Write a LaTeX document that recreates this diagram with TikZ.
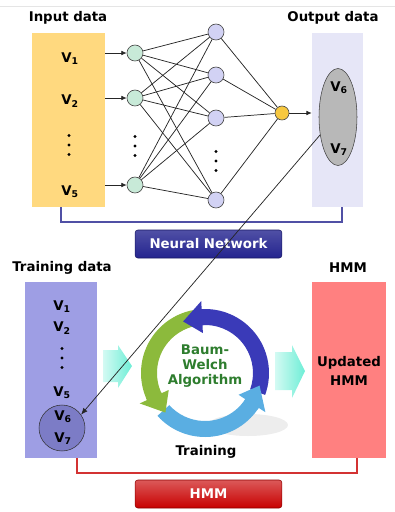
\documentclass[tikz,border=0pt]{standalone}
\usepackage{fontspec}
\setmainfont{DejaVu Sans}
\usepackage{tikz}
\usetikzlibrary{shadings}
\usetikzlibrary{calc,arrows.meta}
\usetikzlibrary{shapes.geometric}
\definecolor{hm-input}{HTML}{FFD97F}
\definecolor{hm-output}{HTML}{E6E6F7}
\definecolor{hm-train}{HTML}{9E9EE4}
\definecolor{hm-trainset}{HTML}{7C7CC6}
\definecolor{hm-model}{HTML}{FF8080}
\definecolor{hm-inode}{HTML}{C8EAD8}
\definecolor{hm-hnode}{HTML}{D2D2F4}
\definecolor{hm-onode}{HTML}{F7C840}
\definecolor{hm-navy}{HTML}{24248F}
\definecolor{hm-red}{HTML}{C80000}
\definecolor{hm-green}{HTML}{8CBA3C}
\definecolor{hm-sky}{HTML}{5AAEE2}
\definecolor{hm-blue}{HTML}{3A3AB8}
\definecolor{hm-text}{HTML}{2E7D2E}
\definecolor{hm-cyan}{HTML}{6EEED6}

\tikzset{
  databox/.style={inner sep=0pt, minimum width=#1},
  neuron/.style={circle, draw=black!70, line width=0.5pt, minimum size=12pt, inner sep=0pt},
  heading/.style={font=\bfseries},
  vtext/.style={font=\bfseries, inner sep=1pt},
  button/.style={rounded corners=2pt, minimum width=110pt, minimum height=21pt,
    text=white, font=\bfseries},
  link/.style={black!85, line width=0.55pt},
  feed/.style={link, -{Latex[length=4pt,width=3.5pt]}},
}

\begin{document}
\begin{tikzpicture}[x=0.75pt, y=-0.75pt]
    \useasboundingbox (0,0) rectangle (395,512);
    \draw[black!10] (0,6) -- (395,6);

    % Data boxes
    \node[databox=54.75pt, minimum height=130.5pt, fill=hm-input] (inbox) at (68.5,120) {};
    \node[databox=38.25pt, minimum height=130.5pt, fill=hm-output] (outbox) at (337.5,120) {};
    \node[databox=54pt, minimum height=132pt, fill=hm-train] (trbox) at (61,370) {};
    \node[databox=55.5pt, minimum height=132pt, fill=hm-model] (hmmbox) at (349,370) {};

    % Headings
    \node[heading] (inhead) at (68,18) {Input data};
    \node[heading] (outhead) at (333,18) {Output data};
    \node[heading] (trhead) at (62,268) {Training data};
    \node[heading] (hmmhead) at (348,268) {HMM};

    % Input values
    \node[vtext] (v1) at (70,59) {V\textsubscript{1}};
    \node[vtext] (v2) at (70,101) {V\textsubscript{2}};
    \node[vtext] (v5) at (70,192) {V\textsubscript{5}};

    % Output ellipse
    \node[ellipse, draw=black!75, fill=black!28, minimum width=28.5pt, minimum height=72.75pt, inner sep=0pt] (oell) at (338,117) {};
    \node[vtext] (o6) at (339,88) {V\textsubscript{6}};
    \node[vtext] (o7) at (339,150) {V\textsubscript{7}};

    % Network
    \node[neuron, fill=hm-inode] (in1) at (135,53) {};
    \node[neuron, fill=hm-inode] (in2) at (135,98) {};
    \node[neuron, fill=hm-inode] (in5) at (135,185) {};
    \node[neuron, fill=hm-hnode] (h1) at (216,32) {};
    \node[neuron, fill=hm-hnode] (h2) at (216,75) {};
    \node[neuron, fill=hm-hnode] (h3) at (216,118) {};
    \node[neuron, fill=hm-hnode] (h4) at (216,200) {};
    \node[neuron, fill=hm-onode, minimum size=10.5pt] (out) at (282,113) {};

    \foreach \i in {1,2,5}
        \foreach \h in {1,...,4}
            \draw[link] (in\i) -- (h\h);
    \foreach \h in {1,...,4}
        \draw[link] (h\h) -- (out);

    \draw[feed] (inbox.east |- in1) -- (in1);
    \draw[feed] (inbox.east |- in2) -- (in2);
    \draw[feed] (inbox.east |- in5) -- (in5);
    \draw[feed] (out) -- (outbox.west |- out);

    % Vertical dots
    \foreach \x/\y in {69/145, 135/146, 216/161, 62/358}
        \foreach \d in {-9.5,0,9.5}
            \fill (\x,\y+\d) circle (1.2pt);

    % Training values
    \node[vtext] (t1) at (62,307) {V\textsubscript{1}};
    \node[vtext] (t2) at (62,328) {V\textsubscript{2}};
    \node[vtext] (t5) at (62,393) {V\textsubscript{5}};
    \node[circle, draw=black!80, fill=hm-trainset, minimum size=34.5pt, inner sep=0pt] (tell) at (62,428) {};
    \node[vtext] (t6) at (63,417) {V\textsubscript{6}};
    \node[vtext] (t7) at (63,439) {V\textsubscript{7}};

    % Brackets and buttons
    \draw[hm-navy!80, line width=1.2pt] ([xshift=-5.6pt]inbox.south) -- ++(0,15) -| ([xshift=3.4pt]outbox.south);
    \draw[hm-red!80, line width=1.2pt] ([xshift=12pt]trbox.south) -- ++(0,15) -| ([xshift=6pt]hmmbox.south);
    \node[button, top color=hm-navy!80, bottom color=hm-navy, draw=hm-navy!70!black] (nnbtn) at (208.5,244) {Neural Network};
    \node[button, top color=hm-red!65, bottom color=hm-red, draw=hm-red!70!black] (hmmbtn) at (208.5,494) {HMM};

    % Flow arrows
    \shade[left color=hm-cyan!30, right color=hm-cyan] (103,350) -- (118,350) -- (118,345) -- (132,366) -- (118,388) -- (118,382) -- (103,382) -- cycle;
    \shade[left color=hm-cyan!30, right color=hm-cyan] (275,352) -- (292,352) -- (292,345) -- (305,371) -- (292,398) -- (292,390) -- (275,390) -- cycle;

    % Baum-Welch cycle
    \fill[black!7] (248,425) ellipse [x radius=40, y radius=11];
    \begin{scope}[shift={(205,373)}, y=0.75pt]
        \foreach \c/\a/\b in {hm-green/100/205, hm-sky/222/327, hm-blue/-20/93}
            \fill[\c] (\a:64) arc[start angle=\a, end angle=\b, radius=64] -- (\b:48) arc[start angle=\b, end angle=\a, radius=48] -- cycle;
        \foreach \c/\b in {hm-green/205, hm-sky/327, hm-blue/93}
            \fill[\c] ({\b-2}:64) -- (\b:64) -- (\b:72) -- ({\b+20}:56) -- (\b:40) -- (\b:48) -- ({\b-2}:48) -- cycle;
    \end{scope}
    \node[heading, text=hm-text, align=center, font=\bfseries\linespread{0.95}\selectfont] (bw) at (205,366) {Baum-\\Welch\\Algorithm};
    \node[heading] (trlabel) at (206,452) {Training};
    \node[heading, align=center] (updated) at (349,371) {Updated\\[2pt]HMM};

    % Moving the output set into the training data
    \draw[link, -{Latex[length=5pt,width=4pt]}] (oell.225) -- (tell.35);

\end{tikzpicture}
\end{document}
